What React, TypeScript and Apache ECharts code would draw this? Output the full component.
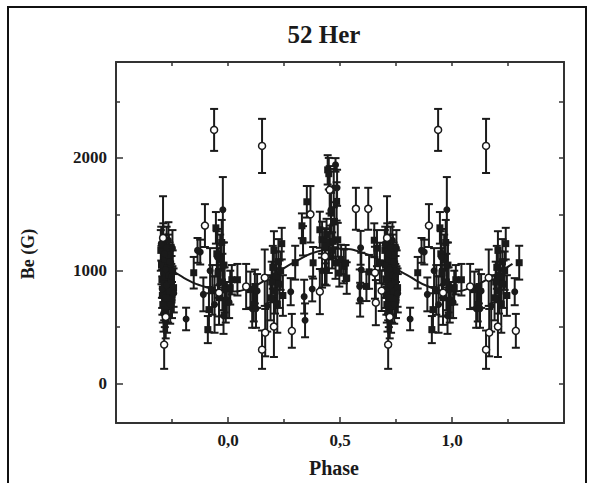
import React, { useEffect, useRef } from "react";
import * as echarts from "echarts";

// ---- Data (base phase in [0,1); repeated by ±1 to fill -0.3..1.3) ----
const openPhase = [0.938, 0.152, 0.710, 0.715, 0.897, 0.960, 0.081, 0.164, 0.166, 0.152, 0.205, 0.285, 0.368, 0.410, 0.433, 0.454, 0.571, 0.626, 0.656, 0.660, 0.686, 0.722];
const openValue = [2248, 2106, 1290, 345, 1400, 805, 860, 938, 451, 300, 505, 467, 1500, 815, 1127, 1717, 1549, 1549, 982, 717, 823, 590];
const openErr = [186, 240, 370, 215, 190, 210, 200, 250, 210, 170, 270, 150, 250, 200, 250, 210, 186, 186, 230, 200, 180, 190];

const squarePhase = [
  0.700, 0.703, 0.705, 0.707, 0.709, 0.711, 0.713, 0.716, 0.718, 0.720, 0.722, 0.724, 0.726, 0.729, 0.731, 0.733, 0.736, 0.738, 0.741, 0.744, 0.747, 0.750, 0.753, 0.757,
  0.618, 0.630, 0.653, 0.665, 0.678,
  0.847,
  0.910, 0.915, 0.930, 0.946, 0.950, 0.955, 0.960, 0.965, 0.972, 0.975, 0.982, 0.990,
  0.010, 0.017, 0.042, 0.100, 0.115, 0.120,
  0.190, 0.195, 0.200, 0.205, 0.210, 0.215, 0.220, 0.225, 0.230, 0.235, 0.240, 0.245,
  0.300, 0.330, 0.335, 0.352, 0.380,
  0.410, 0.420, 0.435, 0.440, 0.445, 0.450, 0.455, 0.460, 0.465, 0.470, 0.475, 0.480, 0.485, 0.490, 0.497, 0.505, 0.517, 0.525, 0.530,
];
const squareValue = [
  1180, 1050, 920, 780, 700, 1230, 990, 860, 650, 1100, 940, 760, 1200, 1020, 880, 690, 1140, 960, 820, 1060, 900, 740, 1000, 850,
  861, 990, 1270, 1200, 1068,
  982,
  478, 655, 830, 1380, 1150, 980, 760, 1100, 1250, 900, 1050, 720,
  850, 920, 920, 832, 700, 860,
  760, 900, 1030, 1180, 820, 950, 700, 1080, 880, 1000, 1240, 780,
  1071, 1398, 1265, 1611, 1070,
  1363, 1275, 1215, 1320, 1894, 1860, 1250, 1510, 1180, 1260, 1437, 1068, 1614, 1274, 979, 1100, 1038, 1068, 935,
];
const squareErr = [
  180, 170, 160, 170, 160, 190, 170, 160, 150, 180, 170, 160, 190, 170, 160, 150, 180, 170, 160, 170, 160, 160, 180, 170,
  130, 150, 150, 160, 180,
  140,
  120, 200, 220, 140, 200, 220, 240, 220, 200, 250, 200, 180,
  150, 130, 140, 160, 150, 150,
  200, 180, 190, 170, 200, 220, 250, 200, 210, 170, 140, 180,
  150, 110, 130, 140, 140,
  160, 160, 150, 140, 130, 140, 150, 180, 160, 150, 170, 140, 170, 150, 120, 130, 150, 160, 140,
];

const circlePhase = [
  0.702, 0.706, 0.712, 0.717, 0.721, 0.725, 0.728, 0.734, 0.739, 0.742, 0.748, 0.752, 0.758,
  0.592, 0.595, 0.588, 0.590,
  0.813, 0.864, 0.876, 0.890,
  0.920, 0.940, 0.953, 0.977, 0.980, 0.985, 0.995,
  0.005, 0.108, 0.125, 0.130,
  0.175,
  0.280, 0.340, 0.344, 0.376,
  0.420, 0.440, 0.450, 0.460, 0.472, 0.480, 0.487,
];
const circleValue = [
  1240, 840, 620, 1150, 1010, 870, 600, 1270, 1080, 700, 950, 1200, 800,
  1203, 1009, 861, 743,
  572, 1180, 1165, 790,
  1000, 700, 1120, 1540, 600, 830, 740,
  720, 664, 664, 820,
  690,
  814, 770, 560, 838,
  1000, 1009, 1130, 1540, 1732, 1938, 1735,
];
const circleErr = [
  150, 170, 160, 170, 180, 170, 150, 160, 170, 170, 180, 160, 170,
  150, 150, 150, 150,
  100, 110, 110, 150,
  200, 250, 250, 290, 160, 200, 160,
  140, 170, 170, 150,
  230,
  120, 150, 150, 110,
  150, 140, 150, 200, 170, 60, 160,
];

// fitted sinusoid
const fitPhase = [-0.27, -0.2, -0.1, 0.0, 0.1, 0.2, 0.3, 0.4, 0.5, 0.6, 0.7, 0.8, 0.9, 1.0, 1.1, 1.2, 1.27];
const fitValue = [1040, 940, 855, 815, 850, 960, 1080, 1170, 1195, 1160, 1070, 960, 855, 815, 865, 975, 1060];

const xLabelValues = [0, 0.5, 1.0];
const yLabelValues = [0, 1000, 2000];
const yMinorTicks = [500, 1500, 2500];

function expand(ph: number[], val: number[], err: number[]) {
  const out: number[][] = [];
  for (let i = 0; i < ph.length; i++) {
    out.push([ph[i], val[i], err[i]]);
    if (ph[i] >= 0.695) out.push([ph[i] - 1, val[i], err[i]]);
    if (ph[i] <= 0.305) out.push([ph[i] + 1, val[i], err[i]]);
  }
  return out;
}

const INK = "#1a1a1a";
const FONT = '"Liberation Serif", "Times New Roman", serif';

export default function App() {
  const ref = useRef<HTMLDivElement>(null);
  useEffect(() => {
    if (!ref.current) return;
    const chart = echarts.init(ref.current, null, { renderer: "svg" });
    const openData = expand(openPhase, openValue, openErr);
    const squareData = expand(squarePhase, squareValue, squareErr);
    const circleData = expand(circlePhase, circleValue, circleErr);
    const allData = [...squareData, ...circleData, ...openData];

    const renderErr = (params: any, api: any) => {
      const x = api.value(0);
      const y = api.value(1);
      const e = api.value(2);
      const t = api.coord([x, y + e]);
      const b = api.coord([x, y - e]);
      const cap = 4;
      const st = { stroke: INK, lineWidth: 2 };
      return {
        type: "group",
        children: [
          { type: "line", shape: { x1: t[0], y1: t[1], x2: b[0], y2: b[1] }, style: st },
          { type: "line", shape: { x1: t[0] - cap, y1: t[1], x2: t[0] + cap, y2: t[1] }, style: st },
          { type: "line", shape: { x1: b[0] - cap, y1: b[1], x2: b[0] + cap, y2: b[1] }, style: st },
        ],
      };
    };

    const frameLine = { show: true, onZero: false, lineStyle: { color: "#333", width: 2 } };
    const grid = { left: 116, top: 62, width: 448, height: 361 };
    const tickStyle = { color: "#333", width: 1.5 };

    chart.setOption({
      animation: false,
      backgroundColor: "#fff",
      grid,
      graphic: [
        { type: "rect", shape: { x: 8, y: 7, width: 578, height: 500 }, style: { fill: "none", stroke: "#111", lineWidth: 2 }, silent: true },
        { type: "text", x: 324, y: 34, style: { text: "52 Her", font: `bold 25px ${FONT}`, fill: INK, textAlign: "center", textVerticalAlign: "middle" } },
        { type: "text", x: 334, y: 468, style: { text: "Phase", font: `bold 20px ${FONT}`, fill: INK, textAlign: "center", textVerticalAlign: "middle" } },
        { type: "text", x: 28, y: 254, rotation: Math.PI / 2, style: { text: "Be (G)", font: `bold 18px ${FONT}`, fill: INK, textAlign: "center", textVerticalAlign: "middle" } },
      ],
      xAxis: [
        {
          type: "value", min: -0.5, max: 1.5, interval: 0.5, position: "bottom",
          axisLine: frameLine,
          axisTick: { show: true, inside: true, length: 6, lineStyle: tickStyle },
          minorTick: { show: true, splitNumber: 2, length: 4, lineStyle: tickStyle },
          splitLine: { show: false },
          minorSplitLine: { show: false },
          axisLabel: {
            margin: 9, color: INK, fontFamily: FONT, fontWeight: "bold", fontSize: 17,
            customValues: xLabelValues,
            formatter: (v: number) => v.toFixed(1).replace(".", ","),
          },
        },
        {
          type: "value", min: -0.5, max: 1.5, interval: 0.5, position: "top",
          axisLine: frameLine,
          axisTick: { show: true, inside: true, length: 4, lineStyle: tickStyle },
          minorTick: { show: true, splitNumber: 2, length: 4, lineStyle: tickStyle },
          splitLine: { show: false },
          axisLabel: { show: false },
        },
      ],
      yAxis: [
        {
          type: "value", min: -350, max: 2850, position: "left",
          axisLine: frameLine,
          axisTick: { show: true, inside: true, length: 7, customValues: yLabelValues, lineStyle: tickStyle },
          splitLine: { show: false },
          axisLabel: {
            margin: 9, color: INK, fontFamily: FONT, fontWeight: "bold", fontSize: 17,
            customValues: yLabelValues, formatter: (v: number) => String(v),
          },
        },
        {
          type: "value", min: -350, max: 2850, position: "left",
          axisLine: { show: false, onZero: false },
          axisTick: { show: true, inside: true, length: 4, customValues: yMinorTicks, lineStyle: tickStyle },
          splitLine: { show: false },
          axisLabel: { show: false },
        },
        {
          type: "value", min: -350, max: 2850, position: "right",
          axisLine: frameLine,
          axisTick: { show: true, inside: true, length: 5, customValues: [0, 500, 1000, 1500, 2000, 2500], lineStyle: tickStyle },
          splitLine: { show: false },
          axisLabel: { show: false },
        },
      ],
      series: [
        {
          type: "custom", xAxisIndex: 0, yAxisIndex: 0,
          renderItem: renderErr, data: allData, encode: { x: 0, y: 1 }, z: 1, silent: true,
        },
        {
          type: "line", xAxisIndex: 0, yAxisIndex: 0, smooth: true, showSymbol: false, z: 2,
          data: fitPhase.map((p, i) => [p, fitValue[i]]),
          lineStyle: { color: INK, width: 2 },
        },
        {
          type: "scatter", xAxisIndex: 0, yAxisIndex: 0, symbol: "rect", symbolSize: 7, z: 3,
          data: squareData.map((d) => [d[0], d[1]]),
          itemStyle: { color: INK, opacity: 1 },
        },
        {
          type: "scatter", xAxisIndex: 0, yAxisIndex: 0, symbol: "circle", symbolSize: 7, z: 3,
          data: circleData.map((d) => [d[0], d[1]]),
          itemStyle: { color: INK, opacity: 1 },
        },
        {
          type: "scatter", xAxisIndex: 0, yAxisIndex: 0, symbol: "circle", symbolSize: 7, z: 4,
          data: openData.map((d) => [d[0], d[1]]),
          itemStyle: { color: "#fff", borderColor: INK, borderWidth: 1.5, opacity: 1 },
        },
      ],
    });
    return () => chart.dispose();
  }, []);
  return (
    <div style={{ position: "fixed", left: 0, top: 0, width: 595, height: 483, background: "#fff" }}>
      <div ref={ref} style={{ width: 595, height: 483 }} />
    </div>
  );
}
